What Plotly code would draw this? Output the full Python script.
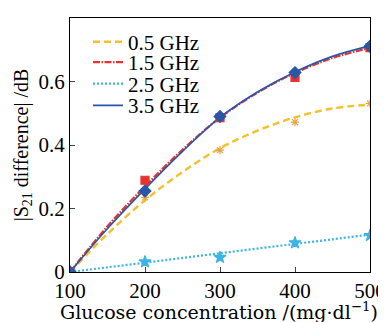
import plotly.graph_objects as go

conc = [100, 200, 300, 400, 500]
fit_x = [100, 150, 200, 250, 300, 350, 400, 450, 500]

meas_05 = [0.0, 0.235, 0.384, 0.472, 0.531]
meas_15 = [0.0, 0.289, 0.486, 0.613, 0.707]
meas_25 = [0.0, 0.032, 0.046, 0.092, 0.115]
meas_35 = [0.0, 0.255, 0.490, 0.628, 0.711]

fit_05 = [0.0, 0.12, 0.226, 0.315, 0.39, 0.445, 0.487, 0.515, 0.527]
fit_15 = [0.0, 0.144, 0.270, 0.385, 0.486, 0.565, 0.627, 0.674, 0.706]
fit_25 = [0.0, 0.0148, 0.0295, 0.0443, 0.059, 0.0738, 0.0885, 0.103, 0.118]
fit_35 = [0.0, 0.137, 0.262, 0.380, 0.487, 0.567, 0.630, 0.679, 0.712]

names = ["0.5 GHz", "1.5 GHz", "2.5 GHz", "3.5 GHz"]
x_title = "Glucose concentration /(mg·dl<sup>−1</sup>)"
y_title = "|S<sub>21</sub> difference| /dB"

colors = ["#f5c02c", "#e8332e", "#3cb4e5", "#2a56a8"]
dashes = ["7px,4px", "7px,1.5px,1.5px,1.5px", "2px,2px", "solid"]
widths = [2.4, 2.2, 2.2, 1.7]
symbols = ["asterisk", "square", "star", "diamond"]
marker_colors = ["#e8a440", "#e8332e", "#3cb4e5", "#2a56a8"]
marker_sizes = [7, 8, 9, 9]
legend_ids = ["legend", "legend2", "legend3", "legend4"]
legend_y = [0.905, 0.825, 0.74, 0.655]

fits = [fit_05, fit_15, fit_25, fit_35]
meas = [meas_05, meas_15, meas_25, meas_35]

fig = go.Figure()
for i in range(4):
    fig.add_trace(go.Scatter(
        x=fit_x, y=fits[i], mode="lines", name=names[i], legend=legend_ids[i],
        line=dict(color=colors[i], dash=dashes[i], width=widths[i], shape="spline"),
    ))
for i in range(4):
    fig.add_trace(go.Scatter(
        x=conc, y=meas[i], mode="markers", showlegend=False,
        marker=dict(symbol=symbols[i], color=marker_colors[i], size=marker_sizes[i],
                    line=dict(color=marker_colors[i], width=1.2)),
    ))

font = "Liberation Serif, DejaVu Serif, serif"
legend_common = dict(x=0.06, xanchor="left", yanchor="middle",
                     bgcolor="rgba(0,0,0,0)", font=dict(size=21, family=font),
                     itemwidth=30, borderwidth=0)
layout_legends = {}
for i in range(4):
    layout_legends[legend_ids[i]] = dict(legend_common, y=legend_y[i])

# page body has an 8px default margin, so the figure is 8px smaller
fig.update_layout(
    width=378, height=314,
    margin=dict(l=62, r=16, t=10, b=50, autoexpand=False),
    paper_bgcolor="white", plot_bgcolor="white",
    font=dict(family=font, size=21, color="black"),
    showlegend=True,
    **layout_legends,
)
fig.add_annotation(
    text=x_title, xref="paper", yref="paper", x=0.495, y=0,
    xanchor="center", yanchor="top", yshift=-25, showarrow=False,
    font=dict(family="DejaVu Serif, serif", size=19, color="black"),
)
fig.update_xaxes(
    range=[100, 500], tickvals=[100, 200, 300, 400, 500],
    ticks="inside", ticklen=5, showline=True, linecolor="black", linewidth=1,
    mirror=True, showgrid=False, zeroline=False, automargin=False,
    tickfont=dict(size=21),
)
fig.update_yaxes(
    range=[0, 0.8], tickvals=[0, 0.2, 0.4, 0.6, 0.8], ticktext=["0", "0.2", "0.4", "0.6", "0.8"],
    ticks="inside", ticklen=5, showline=True, linecolor="black", linewidth=1,
    mirror=True, showgrid=False, zeroline=False, automargin=False,
    tickfont=dict(size=21),
    title=dict(text=y_title, font=dict(size=20), standoff=4),
)
fig.write_html("out.html")
